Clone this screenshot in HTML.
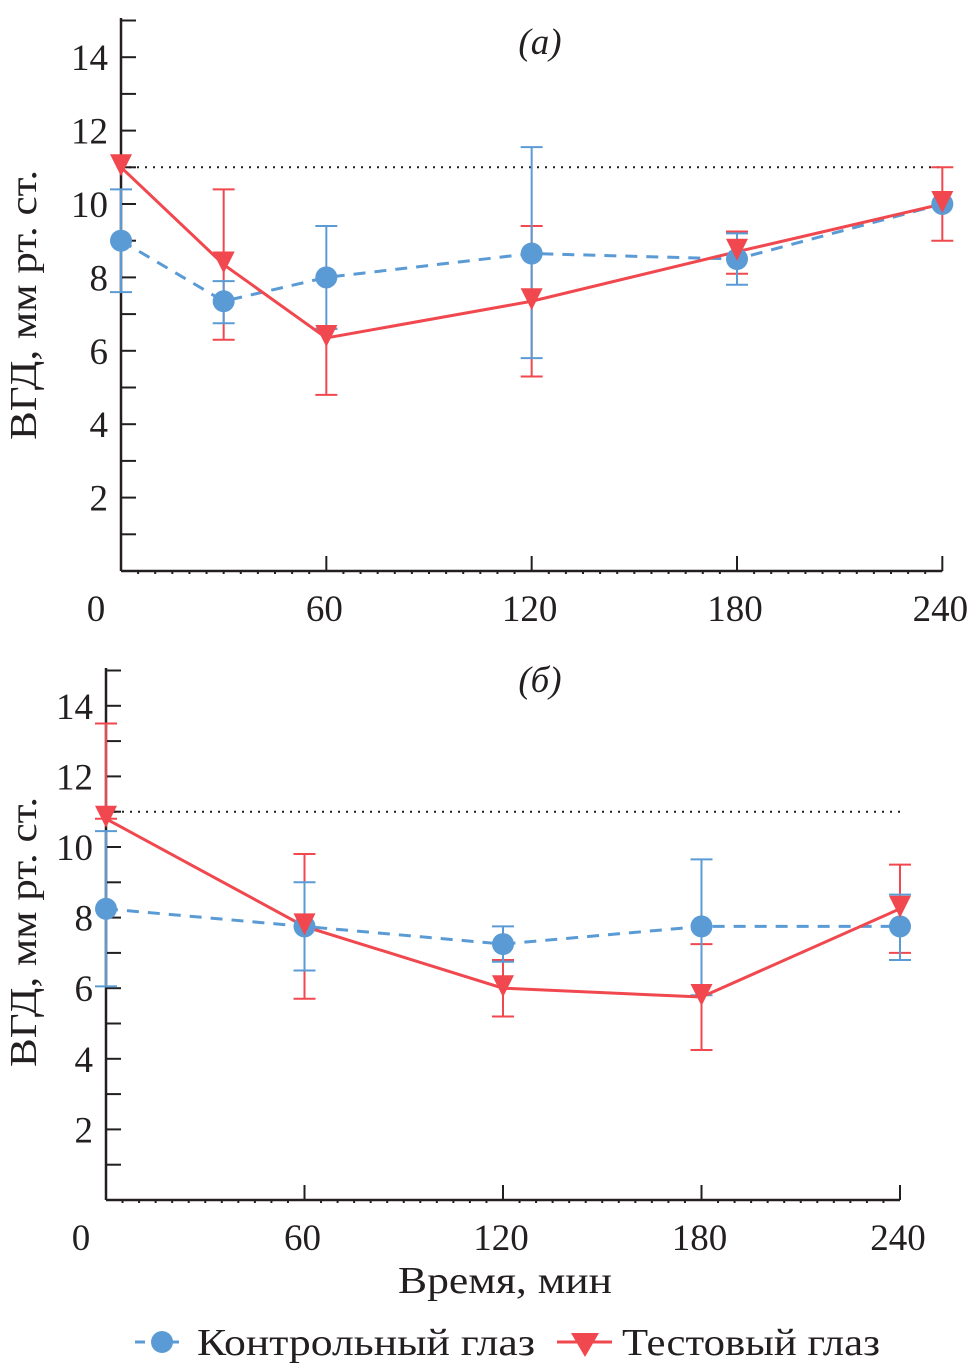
<!DOCTYPE html>
<html><head><meta charset="utf-8"><style>body{margin:0;background:#fff}svg{display:block}text{font-family:"Liberation Serif",serif;fill:#231f20}</style></head><body>
<svg width="969" height="1369" viewBox="0 0 969 1369" xmlns="http://www.w3.org/2000/svg">
<g id="top"></g><g id="bot"></g>
<g id="legend">
<line x1="135" y1="1342" x2="185" y2="1342" stroke="#5b9bd5" stroke-width="3" stroke-dasharray="10,7"/>
<circle cx="162" cy="1342" r="11" fill="#5b9bd5"/>
<text x="197" y="1355" font-size="38" textLength="338" lengthAdjust="spacingAndGlyphs">Контрольный глаз</text>
<line x1="557" y1="1342" x2="612" y2="1342" stroke="#f0484e" stroke-width="3"/>
<polygon points="571,1333 599,1333 585,1357" fill="#f0484e"/>
<text x="622" y="1355" font-size="38" textLength="258" lengthAdjust="spacingAndGlyphs">Тестовый глаз</text>
<text x="398" y="1293" font-size="38" textLength="214" lengthAdjust="spacingAndGlyphs">Время, мин</text>
</g>
</svg>
<script>
function build(id,x0,sx,yb,sy,ytop,label,labelY,ctrl,test,ylabY){
 const g=document.getElementById(id);let s='';
 const X=t=>x0+sx*t, Y=v=>yb-sy*v;
 const xEnd=X(240);
 s+=`<line x1="${x0}" y1="${ytop}" x2="${x0}" y2="${yb}" stroke="#231f20" stroke-width="2.5"/>`;
 s+=`<line x1="${x0}" y1="${yb}" x2="${xEnd}" y2="${yb}" stroke="#231f20" stroke-width="2.5"/>`;
 for(let v=1;v<=15;v++){const y=Y(v);if(y<ytop)break;s+=`<line x1="${x0}" y1="${y}" x2="${x0+15}" y2="${y}" stroke="#231f20" stroke-width="2"/>`;
  if(v%2==0)s+=`<text x="${x0-13}" y="${y+13}" font-size="37" text-anchor="end">${v}</text>`;}
 for(let t=5;t<=240;t+=5){const x=X(t);if(t%60==0)s+=`<line x1="${x}" y1="${yb}" x2="${x}" y2="${yb-15}" stroke="#231f20" stroke-width="2"/>`;else s+=`<line x1="${x}" y1="${yb}" x2="${x}" y2="${yb+3}" stroke="#231f20" stroke-width="2"/>`;}
 s+=`<text x="${x0-25}" y="${yb+50}" font-size="37" text-anchor="middle">0</text>`;
 for(const t of [60,120,180,240])s+=`<text x="${X(t)-2}" y="${yb+50}" font-size="37" text-anchor="middle">${t}</text>`;
 s+=`<text x="540" y="${labelY}" font-size="37" text-anchor="middle" font-style="italic">(${label})</text>`;
 s+=`<text x="${-ylabY-135}" y="36" transform="rotate(-90)" font-size="38" textLength="270" lengthAdjust="spacingAndGlyphs">ВГД, мм рт. ст.</text>`;
 s+=`<line x1="${x0}" y1="${Y(11)}" x2="${xEnd}" y2="${Y(11)}" stroke="#231f20" stroke-width="2" stroke-dasharray="2,6"/>`;
 const eb=(d,c)=>d.forEach(p=>{if(p[2]==null)return;const x=X(p[0]);s+=`<line x1="${x}" y1="${Y(p[2])}" x2="${x}" y2="${Y(p[3])}" stroke="${c}" stroke-width="2"/><line x1="${x-11}" y1="${Y(p[2])}" x2="${x+11}" y2="${Y(p[2])}" stroke="${c}" stroke-width="2"/><line x1="${x-11}" y1="${Y(p[3])}" x2="${x+11}" y2="${Y(p[3])}" stroke="${c}" stroke-width="2"/>`;});
 eb(test,'#f0484e');eb(ctrl,'#5b9bd5');
 s+=`<polyline points="${ctrl.map(p=>X(p[0])+','+Y(p[1])).join(' ')}" fill="none" stroke="#5b9bd5" stroke-width="3" stroke-dasharray="12,9"/>`;
 s+=`<polyline points="${test.map(p=>X(p[0])+','+Y(p[1])).join(' ')}" fill="none" stroke="#f0484e" stroke-width="3"/>`;
 ctrl.forEach(p=>s+=`<circle cx="${X(p[0])}" cy="${Y(p[1])}" r="11" fill="#5b9bd5"/>`);
 test.forEach(p=>{const x=X(p[0]),y=Y(p[1]);s+=`<polygon points="${x-11},${y-13} ${x+11},${y-13} ${x},${y+9}" fill="#f0484e"/>`;});
 g.innerHTML=s;
}
build('top',121,3.4222,571,36.7,18,'а',54,
 [[0,9,7.6,10.4],[30,7.35,6.75,7.9],[60,8,6.6,9.4],[120,8.65,5.8,11.55],[180,8.5,7.8,9.2],[240,10,null,null]],
 [[0,11,null,null],[30,8.35,6.3,10.4],[60,6.35,4.8,6.6],[120,7.35,5.3,9.4],[180,8.7,8.1,9.25],[240,10,9,11]],305);
build('bot',106,3.3083,1200,35.3,668,'б',692,
 [[0,8.25,6.05,10.45],[60,7.75,6.5,9],[120,7.25,6.75,7.75],[180,7.75,5.8,9.65],[240,7.75,6.8,8.65]],
 [[0,10.8,10.8,13.5],[60,7.75,5.7,9.8],[120,6,5.2,6.8],[180,5.75,4.25,7.25],[240,8.25,7,9.5]],932);
</script>
</body></html>
